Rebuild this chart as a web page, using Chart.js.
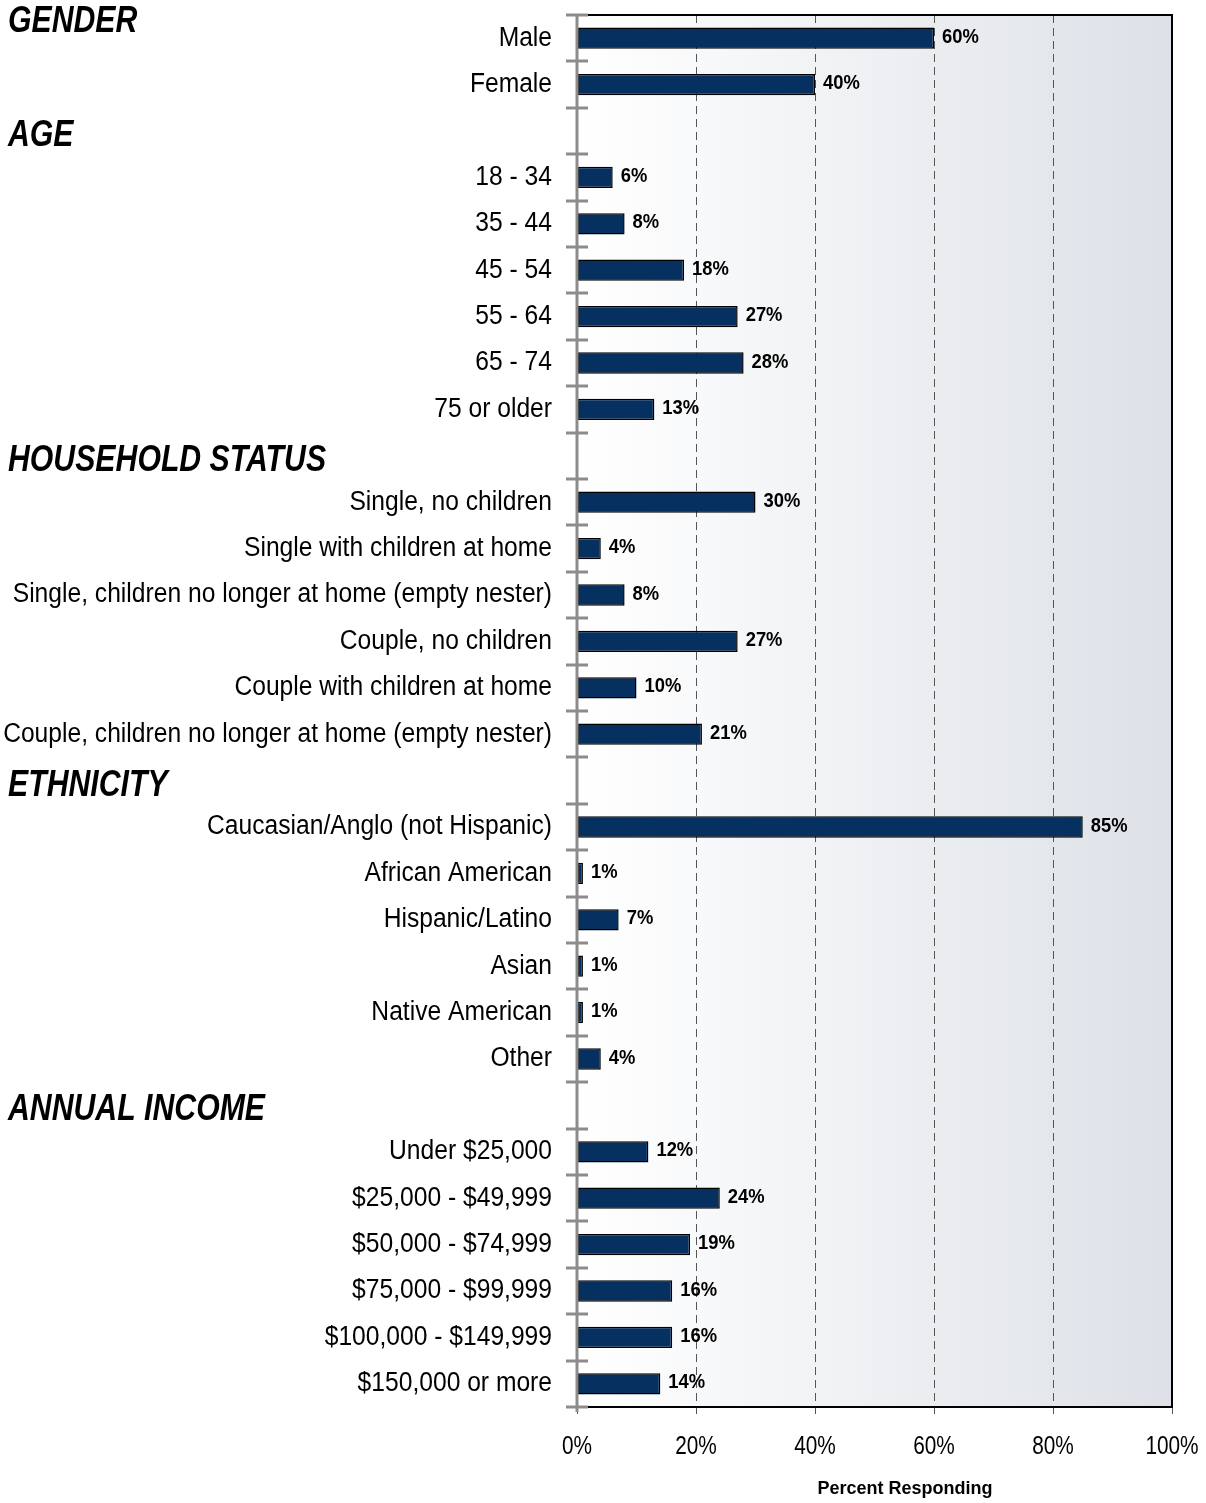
<!DOCTYPE html>
<html>
<head>
<meta charset="utf-8">
<script src="https://cdn.jsdelivr.net/npm/chart.js@4.4.1/dist/chart.umd.min.js"></script>
<style>
  html, body { margin: 0; padding: 0; background: #fff; }
  #wrap { width: 1206px; height: 1503px; position: relative; }
</style>
</head>
<body>
<div id="wrap"><canvas id="chart"></canvas></div>
<script>
// blank entries are the spacer rows where the section headers sit
const categories = [
    "Male", "Female",
    "",
    "18 - 34", "35 - 44", "45 - 54", "55 - 64", "65 - 74", "75 or older",
    "",
    "Single, no children", "Single with children at home",
    "Single, children no longer at home (empty nester)",
    "Couple, no children", "Couple with children at home",
    "Couple, children no longer at home (empty nester)",
    "",
    "Caucasian/Anglo (not Hispanic)", "African American", "Hispanic/Latino",
    "Asian", "Native American", "Other",
    "",
    "Under $25,000", "$25,000 - $49,999", "$50,000 - $74,999",
    "$75,000 - $99,999", "$100,000 - $149,999", "$150,000 or more"
];
const percents = [
    60, 40,
    null,
    6, 8, 18, 27, 28, 13,
    null,
    30, 4, 8, 27, 10, 21,
    null,
    85, 1, 7, 1, 1, 4,
    null,
    12, 24, 19, 16, 16, 14
];
const sectionTitles = ["GENDER", "AGE", "HOUSEHOLD STATUS", "ETHNICITY", "ANNUAL INCOME"];
const sectionRows = [-0.45, 2, 9, 16, 23];
const xTicks = [0, 20, 40, 60, 80, 100];
const xTitle = "Percent Responding";

// no Arial Narrow here, so Liberation Sans gets squeezed horizontally
const SANS = "'Liberation Sans', Arial, sans-serif";
const BAR_COLOR = "#06305f";
const AXIS_GREY = "#8c8c8c";

function narrowText(ctx, text, x, y, sx, align) {
    ctx.save();
    ctx.translate(x, y);
    ctx.scale(sx, 1);
    ctx.textAlign = align;
    ctx.fillText(text, 0, 0);
    ctx.restore();
}

const backgroundPlugin = {
    id: "plotBackground",
    beforeDraw(chart) {
        const { ctx, chartArea: a } = chart;
        const g = ctx.createLinearGradient(a.left, 0, a.right, 0);
        g.addColorStop(0, "#ffffff");
        g.addColorStop(1, "#dde1e7");
        ctx.save();
        ctx.fillStyle = g;
        ctx.fillRect(a.left, a.top, a.right - a.left, a.bottom - a.top);
        ctx.restore();
    }
};

const framePlugin = {
    id: "frame",
    afterDatasetsDraw(chart) {
        const { ctx, chartArea: a } = chart;
        const y = chart.scales.y;
        const x = chart.scales.x;
        ctx.save();
        // black frame top / right / bottom
        ctx.strokeStyle = "#000";
        ctx.lineWidth = 2;
        ctx.beginPath();
        ctx.moveTo(a.left, a.top);
        ctx.lineTo(a.right, a.top);
        ctx.lineTo(a.right, a.bottom);
        ctx.lineTo(a.left, a.bottom);
        ctx.stroke();

        // grey category axis with cross ticks between rows
        ctx.strokeStyle = AXIS_GREY;
        ctx.lineWidth = 3;
        ctx.beginPath();
        ctx.moveTo(a.left, a.top);
        ctx.lineTo(a.left, a.bottom + 5);
        ctx.stroke();
        const step = y.getPixelForValue(1) - y.getPixelForValue(0);
        for (let i = 0; i <= categories.length; i++) {
            const py = Math.round(y.getPixelForValue(i) - step / 2);
            ctx.beginPath();
            ctx.moveTo(a.left - 11, py);
            ctx.lineTo(a.left + 11, py);
            ctx.stroke();
        }

        ctx.fillStyle = "#000";
        ctx.textBaseline = "middle";

        // category labels
        ctx.font = "27px " + SANS;
        categories.forEach((c, i) => {
            if (!c) return;
            narrowText(ctx, c, a.left - 25, y.getPixelForValue(i), 0.912, "right");
        });

        // value labels
        const meta = chart.getDatasetMeta(0);
        ctx.font = "bold 20px " + SANS;
        meta.data.forEach((bar, i) => {
            if (percents[i] == null) return;
            narrowText(ctx, percents[i] + "%", bar.x + 8, bar.y - 1, 0.92, "left");
        });

        // section headers
        ctx.font = "italic bold 36px " + SANS;
        sectionTitles.forEach((t, i) => {
            narrowText(ctx, t, 8, y.getPixelForValue(sectionRows[i]) + 5, 0.84, "left");
        });

        // x tick labels and axis title
        ctx.font = "26px " + SANS;
        xTicks.forEach(v => {
            narrowText(ctx, v + "%", x.getPixelForValue(v), 1447, 0.8, "center");
        });
        ctx.font = "bold 18px " + SANS;
        ctx.textAlign = "center";
        ctx.fillText(xTitle, 905, 1489);
        ctx.restore();
    }
};

const chart = new Chart(document.getElementById("chart"), {
    type: "bar",
    data: {
        labels: categories,
        datasets: [{
            data: percents,
            backgroundColor: BAR_COLOR,
            borderColor: "#000",
            borderWidth: 1.5,
            borderSkipped: false,
            barPercentage: 0.46,
            categoryPercentage: 1
        }]
    },
    options: {
        indexAxis: "y",
        responsive: true,
        maintainAspectRatio: false,
        animation: false,
        layout: { padding: { top: 15, right: 34, bottom: 0, left: 0 } },
        plugins: {
            legend: { display: false },
            tooltip: { enabled: false }
        },
        scales: {
            x: {
                min: 0,
                max: 100,
                afterBuildTicks: s => { s.ticks = xTicks.map(v => ({ value: v })); },
                afterFit: s => { s.height = 96; },
                grid: {
                    color: c => (c.tick && (c.tick.value === 0 || c.tick.value === 100)) ? "transparent" : "#555",
                    lineWidth: 1,
                    tickColor: "#555",
                    tickLength: 7,
                    drawTicks: true
                },
                border: { display: false, dash: [8, 5] },
                ticks: { display: false }
            },
            y: {
                afterFit: s => { s.width = 577; },
                grid: { display: false },
                border: { display: false },
                ticks: { display: false }
            }
        }
    },
    plugins: [backgroundPlugin, framePlugin]
});
</script>
</body>
</html>
